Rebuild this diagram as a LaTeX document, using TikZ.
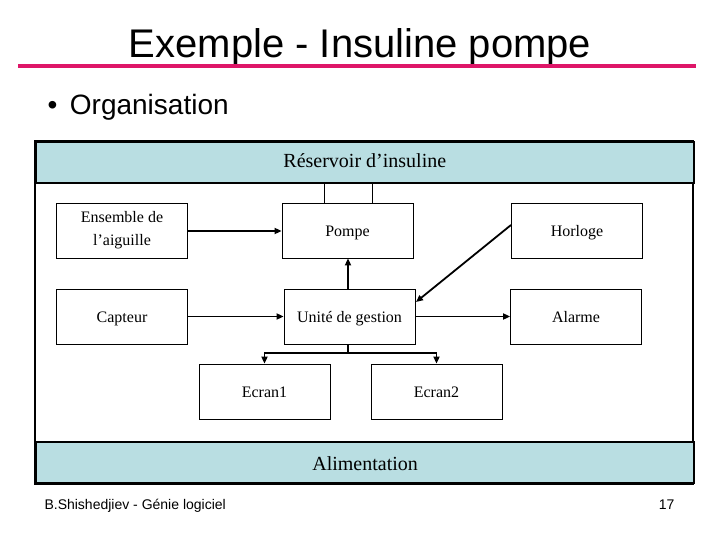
\documentclass[tikz,border=0pt]{standalone}
\usepackage{fontspec}
\setmainfont{Liberation Serif}
\newfontfamily\arial{Liberation Sans}
\usetikzlibrary{arrows.meta}
\definecolor{bandblue}{RGB}{185,222,226}
\definecolor{titlepink}{RGB}{222,22,104}
\tikzset{
  blkbase/.style={draw=black, line width=0.8pt, fill=white, minimum width=131pt, minimum height=55pt, inner sep=0pt, align=center, font=\fontsize{16}{23}\selectfont},
  blk/.style={blkbase, text height=14pt, text depth=2pt},
  band/.style={draw=black, line width=1.6pt, fill=bandblue, minimum width=658pt, minimum height=41pt, inner sep=0pt, text height=14pt, text depth=4.5pt, font=\fontsize{20}{24}\selectfont},
  conn/.style={line width=1.8pt, -{Triangle[length=7pt,width=6pt]}},
  thin/.style={line width=0.6pt}
}
\begin{document}
\begin{tikzpicture}[x=1pt,y=-1pt]
\useasboundingbox (0,0) rectangle (720,540);
% title
\node[font=\arial\fontsize{40}{44}\selectfont, anchor=base] (title) at (360,58) {Exemple - Insuline pompe};
\draw[titlepink, line width=4pt] (18,66) -- (696,66);
\node[font=\arial\fontsize{28}{32}\selectfont, anchor=base west] (org) at (44,115) {\textbullet\hspace{0.45em}Organisation};
% outer frame
\draw[line width=1.8pt] (35,141) rectangle (693,484);
\node[band, anchor=north west] (res) at (35,141) {Réservoir d’insuline};
\node[band, anchor=south west, line width=2.2pt, text height=18pt, text depth=1.5pt] (alim) at (35,484) {Alimentation};
% blocks
\node[blkbase] (ens) at (122,230.5) {Ensemble de\\l’aiguille};
\node[blk] (pompe) at (347.5,230.5) {Pompe};
\node[blk] (horl) at (577,230.5) {Horloge};
\node[blk] (capt) at (122,316.5) {Capteur};
\node[blk] (unite) at (349.5,316.5) {Unité de gestion};
\node[blk] (alarme) at (576,316.5) {Alarme};
\node[blk] (ecr1) at (264.5,391.5) {Ecran1};
\node[blk] (ecr2) at (436.5,391.5) {Ecran2};
% reservoir to pump
\draw[thin] (res.south -| 324,0) -- (pompe.north -| 324,0);
\draw[thin] (res.south -| 372,0) -- (pompe.north -| 372,0);
% connectors
\draw[conn] (ens.east |- 0,231) -- (pompe.west |- 0,231);
\draw[conn] (capt.east) -- (unite.west);
\draw[conn] (unite.east) -- (alarme.west);
\draw[conn] (unite.north -| 348,0) -- (pompe.south -| 348,0);
\coordinate (hs) at (511,225);
\coordinate (ue) at (416,302);
\draw[conn] (hs) -- (ue);
\coordinate (br) at (348,353);
\draw[line width=1.8pt] (unite.south -| br) -- (br);
\draw[conn] (br) -- (264.5,353) -- (ecr1.north);
\draw[conn] (br) -- (436.5,353) -- (ecr2.north);
% footer
\node[font=\arial\fontsize{14}{16}\selectfont, anchor=base west] (foot) at (41,509) {B.Shishedjiev - Génie logiciel};
\node[font=\arial\fontsize{14}{16}\selectfont, anchor=base east] (page) at (678,509) {17};
\end{tikzpicture}
\end{document}
